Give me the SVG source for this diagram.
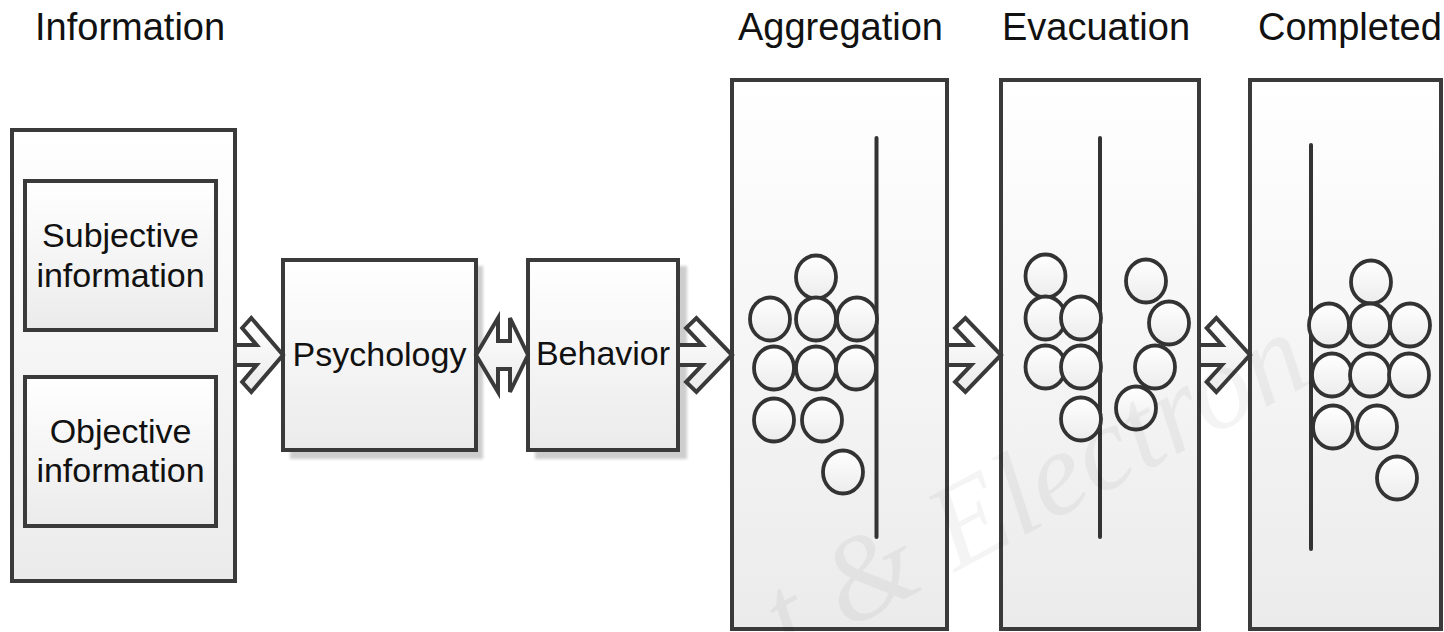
<svg xmlns="http://www.w3.org/2000/svg" width="1444" height="632" viewBox="0 0 1444 632">
  <defs>
    <linearGradient id="boxGrad" x1="0" y1="0" x2="0" y2="1">
      <stop offset="0" stop-color="#ffffff"/>
      <stop offset="1" stop-color="#ebebeb"/>
    </linearGradient>
    <linearGradient id="ballGrad" x1="0" y1="0" x2="0" y2="1">
      <stop offset="0" stop-color="#ffffff"/>
      <stop offset="1" stop-color="#ececec"/>
    </linearGradient>
    <filter id="blur" x="-10%" y="-10%" width="120%" height="120%">
      <feGaussianBlur stdDeviation="1.5"/>
    </filter>
  </defs>
  <style>
    .box { fill: url(#boxGrad); stroke: #3a3a3a; stroke-width: 4; }
    .shadow { fill: #cdcdcd; filter: url(#blur); }
    .ball { fill: url(#ballGrad); stroke: #333333; stroke-width: 3.8; }
    .wall { stroke: #333333; stroke-width: 4; stroke-linecap: round; fill: none; }
    .arrow { fill: url(#boxGrad); stroke: #3a3a3a; stroke-width: 4; stroke-linejoin: miter; }
    .title { font-family: "Liberation Sans", Arial, sans-serif; font-size: 38px; fill: #111111; }
    .label { font-family: "Liberation Sans", Arial, sans-serif; font-size: 34px; fill: #111111; text-anchor: middle; }
    .wm { font-family: "Liberation Serif", "Times New Roman", serif; font-style: italic; font-size: 120px; fill: #000000; fill-opacity: 0.045; }
  </style>
  <rect x="0" y="0" width="1444" height="632" fill="#ffffff"/>

  <g id="information">
    <text class="title" x="35" y="40">Information</text>
    <rect class="box" x="12" y="130" width="223" height="451"/>
  </g>
  <g id="subjective">
    <rect class="box" x="25" y="181" width="191" height="149"/>
    <text class="label" x="120.5" y="247">Subjective</text>
    <text class="label" x="120.5" y="287">information</text>
  </g>
  <g id="objective">
    <rect class="box" x="25" y="377" width="191" height="149"/>
    <text class="label" x="120.5" y="443">Objective</text>
    <text class="label" x="120.5" y="482">information</text>
  </g>

  <g id="psychology">
    <rect class="shadow" x="290" y="266" width="193" height="193"/>
    <rect class="box" x="283" y="260" width="193" height="190"/>
    <text class="label" x="379.5" y="366">Psychology</text>
  </g>
  <g id="behavior">
    <rect class="shadow" x="535" y="266" width="152" height="193"/>
    <rect class="box" x="528" y="260" width="150" height="190"/>
    <text class="label" x="603" y="365">Behavior</text>
  </g>

  <g id="aggregation">
    <text class="title" x="738" y="40">Aggregation</text>
    <rect class="box" x="732" y="80" width="215" height="549"/>
    <line class="wall" x1="876.5" y1="138" x2="876.5" y2="537"/>
    <ellipse class="ball" cx="816" cy="277" rx="20" ry="21.5"/>
    <ellipse class="ball" cx="770" cy="319" rx="20" ry="21.5"/>
    <ellipse class="ball" cx="816" cy="319" rx="20" ry="21.5"/>
    <ellipse class="ball" cx="857" cy="319" rx="20" ry="21.5"/>
    <ellipse class="ball" cx="774" cy="368" rx="20" ry="21.5"/>
    <ellipse class="ball" cx="816" cy="368" rx="20" ry="21.5"/>
    <ellipse class="ball" cx="856" cy="368" rx="20" ry="21.5"/>
    <ellipse class="ball" cx="774" cy="420" rx="20" ry="21.5"/>
    <ellipse class="ball" cx="822" cy="420" rx="20" ry="21.5"/>
    <ellipse class="ball" cx="843" cy="472" rx="20" ry="21.5"/>
  </g>

  <g id="evacuation">
    <text class="title" x="1002" y="40">Evacuation</text>
    <rect class="box" x="1001" y="80" width="198" height="549"/>
    <line class="wall" x1="1100" y1="138" x2="1100" y2="537"/>
    <ellipse class="ball" cx="1045.5" cy="276" rx="20" ry="21.5"/>
    <ellipse class="ball" cx="1045.5" cy="318" rx="20" ry="21.5"/>
    <ellipse class="ball" cx="1081" cy="318" rx="20" ry="21.5"/>
    <ellipse class="ball" cx="1045.5" cy="367" rx="20" ry="21.5"/>
    <ellipse class="ball" cx="1081" cy="367" rx="20" ry="21.5"/>
    <ellipse class="ball" cx="1081" cy="419" rx="20" ry="21.5"/>
    <ellipse class="ball" cx="1146" cy="281" rx="20" ry="21.5"/>
    <ellipse class="ball" cx="1169" cy="323" rx="20" ry="21.5"/>
    <ellipse class="ball" cx="1155" cy="367" rx="20" ry="21.5"/>
    <ellipse class="ball" cx="1136" cy="408" rx="20" ry="21.5"/>
  </g>

  <g id="completed">
    <text class="title" x="1258" y="40">Completed</text>
    <rect class="box" x="1250" y="80" width="191" height="549"/>
    <line class="wall" x1="1311" y1="145" x2="1311" y2="549"/>
    <ellipse class="ball" cx="1371" cy="282" rx="20" ry="21.5"/>
    <ellipse class="ball" cx="1329" cy="325" rx="20" ry="21.5"/>
    <ellipse class="ball" cx="1370" cy="325" rx="20" ry="21.5"/>
    <ellipse class="ball" cx="1410" cy="325" rx="20" ry="21.5"/>
    <ellipse class="ball" cx="1332" cy="375" rx="20" ry="21.5"/>
    <ellipse class="ball" cx="1370" cy="375" rx="20" ry="21.5"/>
    <ellipse class="ball" cx="1409" cy="375" rx="20" ry="21.5"/>
    <ellipse class="ball" cx="1333" cy="427" rx="20" ry="21.5"/>
    <ellipse class="ball" cx="1377" cy="427" rx="20" ry="21.5"/>
    <ellipse class="ball" cx="1397" cy="478" rx="20" ry="21.5"/>
  </g>

  <g id="connectors">
    <polygon class="arrow" points="235,345 256.6,345 242.2,328 251.3,318 283,355 251.3,392 242.2,382 256.6,365 235,365"/>
    <polygon class="arrow" points="476,355 498,318 498,341 510,341 510,318 528,355 510,392 510,369 498,369 498,392"/>
    <polygon class="arrow" points="678,345 702.3,345 686.1,328 696.4,318 732,355 696.4,392 686.1,382 702.3,365 678,365"/>
    <polygon class="arrow" points="947,345 971.3,345 955.1,328 965.4,318 1001,355 965.4,392 955.1,382 971.3,365 947,365"/>
    <polygon class="arrow" points="1199,345 1222,345 1206.7,328 1216.3,318 1250,355 1216.3,392 1206.7,382 1222,365 1199,365"/>
  </g>

  <text class="wm" transform="translate(790,660) rotate(-28)">t &amp; Electron</text>
</svg>
